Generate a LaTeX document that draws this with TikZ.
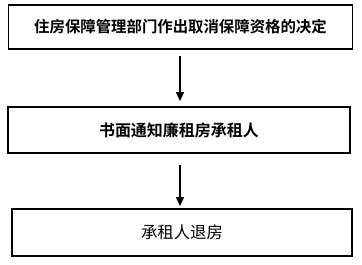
\documentclass[tikz,border=0pt]{standalone}
\usepackage{fontspec}
\newfontfamily\cjk{Noto Sans CJK SC}
\newfontfamily\cjkb{Noto Sans CJK SC Bold}
\usetikzlibrary{arrows.meta}
\begin{document}
\begin{tikzpicture}[x=1pt,y=-1pt,
  box/.style={draw, line width=1.8pt, inner sep=0pt, minimum height=#1},
  arr/.style={line width=1.3pt, -{Triangle[length=9pt,width=8pt]}}]
\useasboundingbox (0,0) rectangle (362,265);
\node[box=44pt, minimum width=344pt] (top) at (180.5,27)
  {\cjkb\fontsize{15.4pt}{17pt}\selectfont 住房保障管理部门作出取消保障资格的决定};
\node[box=46pt, minimum width=342pt] (mid) at (179,130)
  {\cjkb\fontsize{16pt}{18pt}\selectfont 书面通知廉租房承租人};
\node[box=47pt, minimum width=340pt] (bot) at (182,232.5)
  {\cjk\fontsize{16.4pt}{18pt}\selectfont 承租人退房};
\coordinate (ax) at (180,0);
\draw[arr, shorten <=6pt, shorten >=5pt] (top.south -| ax) -- (mid.north -| ax);
\draw[arr, shorten <=11pt, shorten >=2pt] (mid.south -| ax) -- (bot.north -| ax);
\end{tikzpicture}
\end{document}
